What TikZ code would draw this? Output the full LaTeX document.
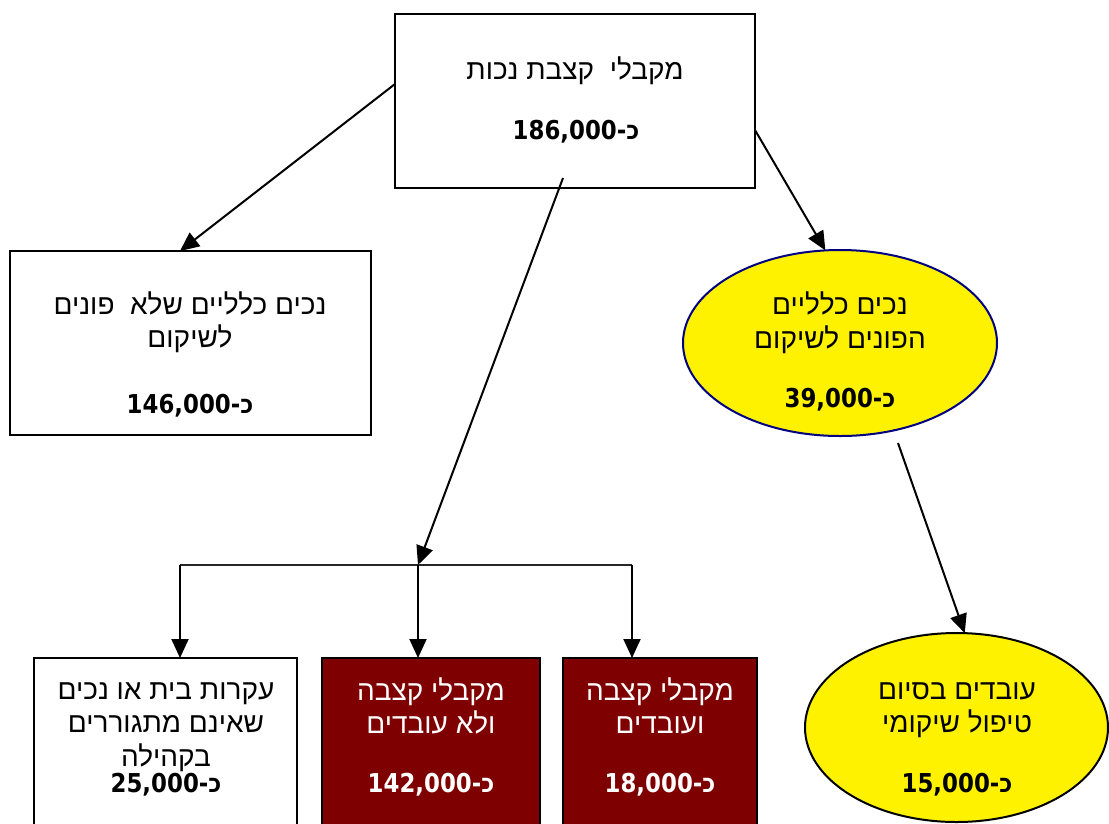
\documentclass[tikz,border=0pt]{standalone}
\usepackage{fontspec}
\usetikzlibrary{shapes.geometric,arrows.meta,calc}
\TeXXeTstate=1
\newfontfamily\heb[Script=Hebrew]{Liberation Sans}
\newfontfamily\numfont{DejaVu Sans}[FakeStretch=0.88]
\definecolor{maroonbox}{HTML}{7F0000}
\definecolor{navyline}{HTML}{000080}
\newcommand\RL[1]{\beginR#1\endR}
\newcommand\kaf{\hbox{כ}}
\begin{document}
\begin{tikzpicture}[x=1pt,y=-1pt,
  box/.style={draw=black, line width=2pt, rectangle, inner sep=0pt, outer sep=0pt},
  darkbox/.style={box, fill=maroonbox},
  oval/.style={ellipse, fill=yellow, line width=2pt, inner sep=0pt, outer sep=0pt},
  hebtxt/.style={font=\heb\fontsize{28}{33.5}\selectfont, align=center, inner sep=0pt, yshift=-3pt},
  numtxt/.style={font=\numfont\bfseries\fontsize{26}{28}\selectfont, inner sep=0pt, yshift=-2pt},
  conn/.style={line width=2pt, -{Triangle[length=19pt,width=17pt]}},
  bar/.style={line width=2.2pt, draw=black!85}
]
\useasboundingbox (0,0) rectangle (1109,823);
% boxes
\node[box, minimum width=360pt, minimum height=174pt] (top) at (575,101) {};
\node[box, minimum width=361pt, minimum height=184pt] (left) at (190.5,343) {};
\node[oval, draw=navyline, minimum width=314pt, minimum height=186pt] (ell1) at (840,343) {};
\node[oval, draw=black, minimum width=303pt, minimum height=189pt] (ell2) at (956.5,727.5) {};
\node[box, fill=white, minimum width=263pt, minimum height=182pt] (boxA) at (165.5,749) {};
\node[darkbox, minimum width=218pt, minimum height=182pt] (boxB) at (431,749) {};
\node[darkbox, minimum width=194pt, minimum height=182pt] (boxC) at (660,749) {};
% texts
\node[hebtxt] (topT) at (575,68) {\RL{מקבלי\ \ קצבת נכות}};
\node[numtxt] (topN) at (576,130) {186,000-\kaf};
\node[hebtxt] (leftT) at (190,319) {\RL{נכים כלליים שלא\ \ פונים}\\\RL{לשיקום}};
\node[numtxt] (leftN) at (190,404) {146,000-\kaf};
\node[hebtxt] (ell1T) at (840,319.5) {\RL{נכים כלליים}\\\RL{הפונים לשיקום}};
\node[numtxt] (ell1N) at (840,398) {39,000-\kaf};
\node[hebtxt] (ell2T) at (957,707) {\RL{עובדים בסיום}\\\RL{טיפול שיקומי}};
\node[numtxt] (ell2N) at (957,783) {15,000-\kaf};
\node[hebtxt] (boxAT) at (166,724) {\RL{עקרות בית או נכים}\\\RL{שאינם מתגוררים}\\\RL{בקהילה}};
\node[numtxt] (boxAN) at (166,783) {25,000-\kaf};
\node[hebtxt, text=white] (boxBT) at (431,703) {\RL{מקבלי קצבה}\\\RL{ולא עובדים}};
\node[numtxt, text=white] (boxBN) at (431,783) {142,000-\kaf};
\node[hebtxt, text=white] (boxCT) at (660,703) {\RL{מקבלי קצבה}\\\RL{ועובדים}};
\node[numtxt, text=white] (boxCN) at (660,783) {18,000-\kaf};
% connectors
\coordinate (br) at (418,565);
\coordinate (brL) at (180,565);
\coordinate (brR) at (632,565);
\draw[conn] ([yshift=17pt]top.west) -- ([xshift=-10.5pt]left.north);
\draw[conn] ([yshift=-29pt]top.east) -- (ell1.99);
\draw[conn] ([xshift=-12pt,yshift=10pt]top.south) -- (br);
\draw[bar] (brL) -- (brR);
\draw[conn] (brL) -- (brL |- boxA.north);
\draw[conn] (br) -- (br |- boxB.north);
\draw[conn] (brR) -- (brR |- boxC.north);
\draw[conn] ([xshift=58pt,yshift=-7pt]ell1.south) -- (ell2.85);
\end{tikzpicture}
\end{document}
